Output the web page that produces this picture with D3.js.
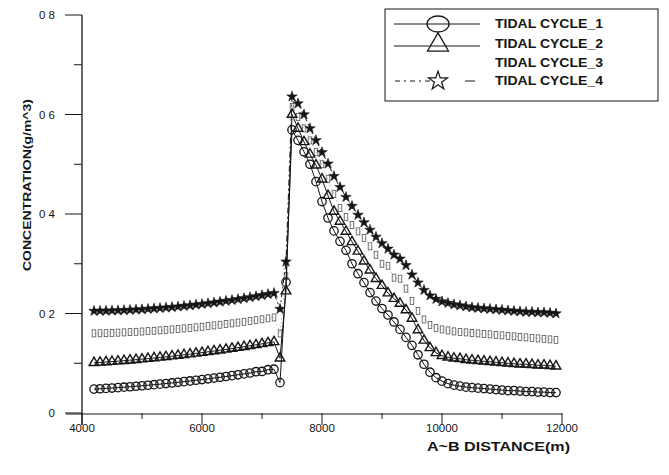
<!DOCTYPE html>
<html>
<head>
<meta charset="utf-8">
<script src="https://cdn.jsdelivr.net/npm/d3@7"></script>
<style>
  html, body { margin: 0; padding: 0; background: #fff; }
  svg { display: block; font-family: "Liberation Sans", Arial, sans-serif; }
</style>
</head>
<body>
<svg id="chart" width="669" height="475"></svg>
<script>
// ---------- data ----------
const distance = [
  4200, 4300, 4400, 4500, 4600, 4700, 4800, 4900, 5000, 5100,
  5200, 5300, 5400, 5500, 5600, 5700, 5800, 5900, 6000, 6100,
  6200, 6300, 6400, 6500, 6600, 6700, 6800, 6900, 7000, 7100,
  7200, 7300, 7400, 7500, 7600, 7700, 7800, 7900, 8000, 8100,
  8200, 8300, 8400, 8500, 8600, 8700, 8800, 8900, 9000, 9100,
  9200, 9300, 9400, 9500, 9600, 9700, 9800, 9900, 10000, 10100,
  10200, 10300, 10400, 10500, 10600, 10700, 10800, 10900, 11000, 11100,
  11200, 11300, 11400, 11500, 11600, 11700, 11800, 11900
];

const cycle1 = [
  .048, .0487, .0494, .0502, .0510, .0519, .0528, .0538, .0548, .0558,
  .0569, .0580, .0592, .0604, .0617, .0630, .0644, .0658, .0672, .0687,
  .0702, .0718, .0734, .0751, .0768, .0786, .0804, .0830, .0835, .0870,
  .088, .061, .263, .569, .548, .525, .500, .465, .425, .392,
  .366, .345, .327, .300, .280, .262, .242, .225, .210, .197,
  .183, .168, .152, .136, .117, .098, .082, .071, .064, .059,
  .056, .054, .052, .051, .050, .049, .048, .047, .046, .045,
  .045, .044, .043, .043, .042, .042, .041, .041
];

const cycle2 = [
  .101, .1018, .1026, .1034, .1043, .1052, .1062, .1072, .1083, .1094,
  .1106, .1118, .1130, .1143, .1156, .1170, .1184, .1199, .1214, .1230,
  .1246, .1262, .1279, .1296, .1314, .1332, .1351, .1370, .1390, .1410,
  .143, .110, .245, .600, .572, .545, .520, .498, .470, .437,
  .405, .385, .365, .344, .325, .305, .287, .270, .256, .241,
  .230, .220, .207, .190, .167, .146, .131, .121, .115, .112,
  .110, .109, .107, .106, .105, .104, .103, .102, .101, .100,
  .099, .098, .098, .097, .096, .096, .095, .094
];

const cycle3 = [
  .1600, .1603, .1606, .1610, .1615, .1620, .1626, .1632, .1638, .1646,
  .1653, .1662, .1670, .1680, .1690, .1700, .1711, .1722, .1734, .1747,
  .1760, .1774, .1788, .1802, .1818, .1833, .1850, .1866, .1884, .1902,
  .192, .160, .275, .615, .595, .572, .548, .525, .500, .470,
  .440, .412, .394, .378, .365, .352, .335, .318, .300, .296,
  .272, .270, .250, .225, .205, .188, .177, .171, .168, .166,
  .164, .163, .162, .161, .160, .159, .158, .157, .156, .155,
  .154, .153, .152, .151, .150, .149, .148, .147
];

const cycle4 = [
  .2050, .2052, .2054, .2057, .2061, .2066, .2071, .2077, .2083, .2091,
  .2099, .2108, .2117, .2127, .2138, .2150, .2162, .2176, .2189, .2204,
  .2219, .2235, .2251, .2269, .2287, .2306, .2325, .2345, .2366, .2388,
  .241, .209, .304, .636, .622, .600, .572, .548, .524, .501,
  .476, .454, .434, .416, .398, .383, .368, .354, .341, .330,
  .318, .310, .297, .278, .262, .247, .236, .229, .224, .221,
  .218, .216, .214, .212, .211, .210, .209, .208, .207, .206,
  .205, .204, .203, .203, .202, .202, .201, .200
];

const seriesNames = ["TIDAL CYCLE_1", "TIDAL CYCLE_2", "TIDAL CYCLE_3", "TIDAL CYCLE_4"];

const xMajorTicks = [4000, 6000, 8000, 10000, 12000];
const xMinorTicks = [5000, 7000, 9000, 11000];
const yMajorTicks = [0, 0.2, 0.4, 0.6, 0.8];
const yMinorTicks = [0.1, 0.3, 0.5, 0.7];
const yTickLabels = ["0", "0 2", "0 4", "0 6", "0 8"];

// ---------- setup ----------
const svg = d3.select("#chart");
const ink = "#161616";

const x = d3.scaleLinear().domain([4000, 12000]).range([82, 562]);
const y = d3.scaleLinear().domain([0, 0.8]).range([413, 15]);

// ---------- axes ----------
const axes = svg.append("g");

axes.append("line")
  .attr("x1", x(4000)).attr("x2", x(4000))
  .attr("y1", y(0.8)).attr("y2", y(0) + 12)
  .attr("stroke", ink).attr("stroke-width", 1.3);

axes.append("line")
  .attr("x1", x(4000) - 16).attr("x2", x(12000))
  .attr("y1", y(0) + 1).attr("y2", y(0) + 1)
  .attr("stroke", ink).attr("stroke-width", 1.1);

// y ticks (outside, to the left)
axes.selectAll("line.ymaj").data(yMajorTicks).enter().append("line")
  .attr("class", "ymaj")
  .attr("x1", x(4000) - 17).attr("x2", x(4000))
  .attr("y1", d => y(d)).attr("y2", d => y(d))
  .attr("stroke", ink).attr("stroke-width", 1);

axes.selectAll("line.ymin").data(yMinorTicks).enter().append("line")
  .attr("class", "ymin")
  .attr("x1", x(4000) - 8).attr("x2", x(4000))
  .attr("y1", d => y(d)).attr("y2", d => y(d))
  .attr("stroke", ink).attr("stroke-width", 1);

axes.selectAll("text.ylab").data(yMajorTicks).enter().append("text")
  .attr("class", "ylab")
  .attr("x", 55)
  .attr("y", d => y(d) + 4)
  .attr("text-anchor", "end")
  .attr("font-size", 11.5)
  .attr("fill", ink)
  .text((d, i) => yTickLabels[i]);

// x ticks (downwards)
axes.selectAll("line.xmaj").data(xMajorTicks).enter().append("line")
  .attr("class", "xmaj")
  .attr("x1", d => x(d)).attr("x2", d => x(d))
  .attr("y1", y(0)).attr("y2", y(0) + 12)
  .attr("stroke", ink).attr("stroke-width", 1);

axes.selectAll("line.xmin").data(xMinorTicks).enter().append("line")
  .attr("class", "xmin")
  .attr("x1", d => x(d)).attr("x2", d => x(d))
  .attr("y1", y(0)).attr("y2", y(0) + 6)
  .attr("stroke", ink).attr("stroke-width", 1);

axes.selectAll("text.xlab").data(xMajorTicks).enter().append("text")
  .attr("class", "xlab")
  .attr("x", d => x(d))
  .attr("y", 432)
  .attr("text-anchor", "middle")
  .attr("font-size", 11.5)
  .attr("fill", ink)
  .text(d => d);

// titles
axes.append("text")
  .attr("x", 427).attr("y", 451)
  .attr("font-size", 13.5).attr("font-weight", "bold")
  .attr("textLength", 143).attr("lengthAdjust", "spacingAndGlyphs")
  .attr("fill", ink)
  .text("A~B DISTANCE(m)");

axes.append("text")
  .attr("transform", "translate(31,185) rotate(-90)")
  .attr("text-anchor", "middle")
  .attr("font-size", 11.5).attr("font-weight", "bold")
  .attr("textLength", 172).attr("lengthAdjust", "spacingAndGlyphs")
  .attr("fill", ink)
  .text("CONCENTRATION(g/m^3)");

// ---------- series ----------
const line = d3.line().x((d, i) => x(distance[i])).y(d => y(d));
const marks = svg.append("g");

const starPath = (r) => d3.symbol().type(d3.symbolStar).size(r)();
const triPath = (r) => d3.symbol().type(d3.symbolTriangle).size(r)();

// cycle 3: faint dotted with small square marks
marks.append("path").datum(cycle3)
  .attr("d", line).attr("fill", "none")
  .attr("stroke", "#8a8a8a").attr("stroke-width", 0.8)
  .attr("stroke-dasharray", "1,3");
marks.selectAll("rect.c3").data(cycle3).enter().append("rect")
  .attr("class", "c3")
  .attr("x", (d, i) => x(distance[i]) - 1.8)
  .attr("y", d => y(d) - 3.5)
  .attr("width", 3.6).attr("height", 7)
  .attr("fill", "none").attr("stroke", "#555").attr("stroke-width", 0.8);

// cycle 4: dash-dot with filled stars
marks.append("path").datum(cycle4)
  .attr("d", line).attr("fill", "none")
  .attr("stroke", ink).attr("stroke-width", 1)
  .attr("stroke-dasharray", "6,3,2,3");
marks.selectAll("path.c4").data(cycle4).enter().append("path")
  .attr("class", "c4")
  .attr("d", starPath(34))
  .attr("transform", (d, i) => `translate(${x(distance[i])},${y(d)})`)
  .attr("fill", ink).attr("stroke", ink).attr("stroke-width", 0.6);

// cycle 2: solid with open triangles
marks.append("path").datum(cycle2)
  .attr("d", line).attr("fill", "none")
  .attr("stroke", ink).attr("stroke-width", 1);
marks.selectAll("path.c2").data(cycle2).enter().append("path")
  .attr("class", "c2")
  .attr("d", triPath(40))
  .attr("transform", (d, i) => `translate(${x(distance[i])},${y(d)})`)
  .attr("fill", "none").attr("stroke", ink).attr("stroke-width", 1.4);

// cycle 1: solid with open circles
marks.append("path").datum(cycle1)
  .attr("d", line).attr("fill", "none")
  .attr("stroke", ink).attr("stroke-width", 1);
marks.selectAll("circle.c1").data(cycle1).enter().append("circle")
  .attr("class", "c1")
  .attr("cx", (d, i) => x(distance[i]))
  .attr("cy", d => y(d))
  .attr("r", 4.2)
  .attr("fill", "none").attr("stroke", ink).attr("stroke-width", 1.3);

// ---------- legend ----------
const lg = svg.append("g");
lg.append("rect")
  .attr("x", 385).attr("y", 9).attr("width", 273).attr("height", 92)
  .attr("fill", "#fff").attr("stroke", ink).attr("stroke-width", 1);

const rowY = [24, 44, 63, 81];
const mx = 438;

seriesNames.forEach((name, i) => {
  lg.append("text")
    .attr("x", 495).attr("y", rowY[i] + 4)
    .attr("font-size", 12).attr("font-weight", "bold")
    .attr("textLength", 108).attr("lengthAdjust", "spacingAndGlyphs")
    .attr("fill", ink)
    .text(name);
});

// row 1
lg.append("line").attr("x1", 394).attr("x2", 480)
  .attr("y1", rowY[0]).attr("y2", rowY[0])
  .attr("stroke", ink).attr("stroke-width", 1);
lg.append("ellipse").attr("cx", mx).attr("cy", rowY[0])
  .attr("rx", 11).attr("ry", 8)
  .attr("fill", "none").attr("stroke", ink).attr("stroke-width", 1.3);

// row 2
lg.append("line").attr("x1", 394).attr("x2", 480)
  .attr("y1", rowY[1] + 2).attr("y2", rowY[1] + 2)
  .attr("stroke", ink).attr("stroke-width", 1);
lg.append("path")
  .attr("d", triPath(190))
  .attr("transform", `translate(${mx},${rowY[1] + 1})`)
  .attr("fill", "none").attr("stroke", ink).attr("stroke-width", 1.3);

// row 4
lg.append("line").attr("x1", 395).attr("x2", 430)
  .attr("y1", rowY[3]).attr("y2", rowY[3])
  .attr("stroke", ink).attr("stroke-width", 1)
  .attr("stroke-dasharray", "5,4,2,4");
lg.append("line").attr("x1", 465).attr("x2", 475)
  .attr("y1", rowY[3]).attr("y2", rowY[3])
  .attr("stroke", ink).attr("stroke-width", 1);
lg.append("path")
  .attr("d", starPath(110))
  .attr("transform", `translate(${mx},${rowY[3]})`)
  .attr("fill", "#fff").attr("stroke", ink).attr("stroke-width", 1.2);
</script>
</body>
</html>
